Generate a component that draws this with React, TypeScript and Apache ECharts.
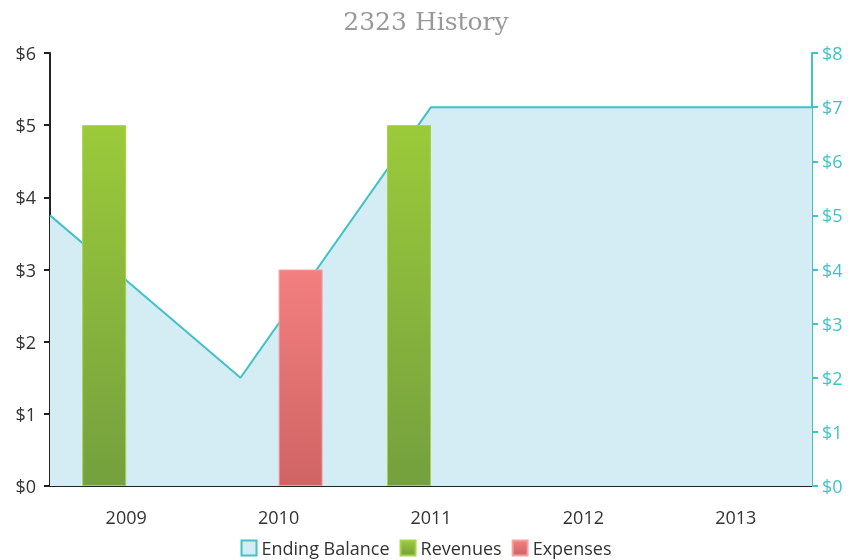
import React, { useEffect, useRef } from "react";
import * as echarts from "echarts";

const categories = ["2009", "2010", "2011", "2012", "2013"];
const balancePoints = ["p0", "p1", "p2", "p3", "p4"];
const endingBalance = [5, 2, 7, 7, 7];
const revenues = [5, null, 5, null, null];
const expenses = [null, 3, null, null, null];

const FONT = "'Open Sans', Lato, sans-serif";

export default function App() {
  const ref = useRef<HTMLDivElement>(null);
  useEffect(() => {
    if (!ref.current) return;
    const chart = echarts.init(ref.current, null, { renderer: "svg" });
    const green = new echarts.graphic.LinearGradient(0, 0, 0, 1, [
      { offset: 0, color: "#9bca3a" },
      { offset: 1, color: "#74a03e" },
    ]);
    const red = new echarts.graphic.LinearGradient(0, 0, 0, 1, [
      { offset: 0, color: "#f37f7f" },
      { offset: 1, color: "#d06464" },
    ]);
    chart.setOption({
      animation: false,
      title: {
        text: "2323 History",
        left: "center",
        top: 4,
        textStyle: {
          fontFamily: "'DejaVu Serif', 'Liberation Serif', serif",
          fontWeight: "normal",
          fontSize: 25,
          color: "#999999",
        },
      },
      legend: {
        bottom: -2,
        left: "center",
        itemWidth: 15,
        itemHeight: 15,
        itemGap: 10,
        textStyle: { fontFamily: FONT, fontSize: 18, color: "#333" },
        data: [
          { name: "Ending Balance", icon: "rect", itemStyle: { color: "#d4ecf3", borderColor: "#42c2c6", borderWidth: 2 } },
          { name: "Revenues", icon: "rect" },
          { name: "Expenses", icon: "rect" },
        ],
      },
      grid: { left: 50, right: 40, top: 53, bottom: 74 },
      xAxis: [
        {
          type: "category",
          data: categories,
          axisLine: { lineStyle: { color: "#222", width: 2 } },
          axisTick: { show: false },
          axisLabel: { fontFamily: FONT, fontSize: 18, color: "#333", margin: 22 },
        },
        {
          type: "category",
          data: balancePoints,
          boundaryGap: false,
          show: false,
        },
      ],
      yAxis: [
        {
          type: "value",
          min: 0,
          max: 6,
          interval: 1,
          splitLine: { show: false },
          axisLine: { show: true, lineStyle: { color: "#222", width: 2 } },
          axisTick: { show: true, length: 6, lineStyle: { color: "#222", width: 2 } },
          axisLabel: { fontFamily: FONT, fontSize: 18, color: "#333", margin: 14, formatter: "${value}" },
        },
        {
          type: "value",
          min: 0,
          max: 8,
          interval: 1,
          position: "right",
          splitLine: { show: false },
          axisLine: { show: true, lineStyle: { color: "#42c2c6", width: 2 } },
          axisTick: { show: true, length: 6, lineStyle: { color: "#42c2c6", width: 2 } },
          axisLabel: { fontFamily: FONT, fontSize: 18, color: "#42c2c6", margin: 10, formatter: "${value}" },
        },
      ],
      series: [
        {
          name: "Ending Balance",
          type: "line",
          xAxisIndex: 1,
          yAxisIndex: 1,
          data: endingBalance,
          symbol: "none",
          z: 1,
          lineStyle: { color: "#42c2c6", width: 2 },
          itemStyle: { color: "#42c2c6" },
          areaStyle: { color: "#d4ecf3", opacity: 1 },
        },
        {
          name: "Revenues",
          type: "bar",
          data: revenues,
          barWidth: 44,
          barGap: "0%",
          z: 3,
          itemStyle: { color: green, borderColor: "#a6d34a", borderWidth: 1 },
        },
        {
          name: "Expenses",
          type: "bar",
          data: expenses,
          barWidth: 44,
          barGap: "0%",
          z: 3,
          itemStyle: { color: red, borderColor: "#f6a0a0", borderWidth: 1 },
        },
      ],
    });
    return () => chart.dispose();
  }, []);
  return <div ref={ref} style={{ width: 852, height: 560, position: "fixed", left: 0, top: 0 }} />;
}
